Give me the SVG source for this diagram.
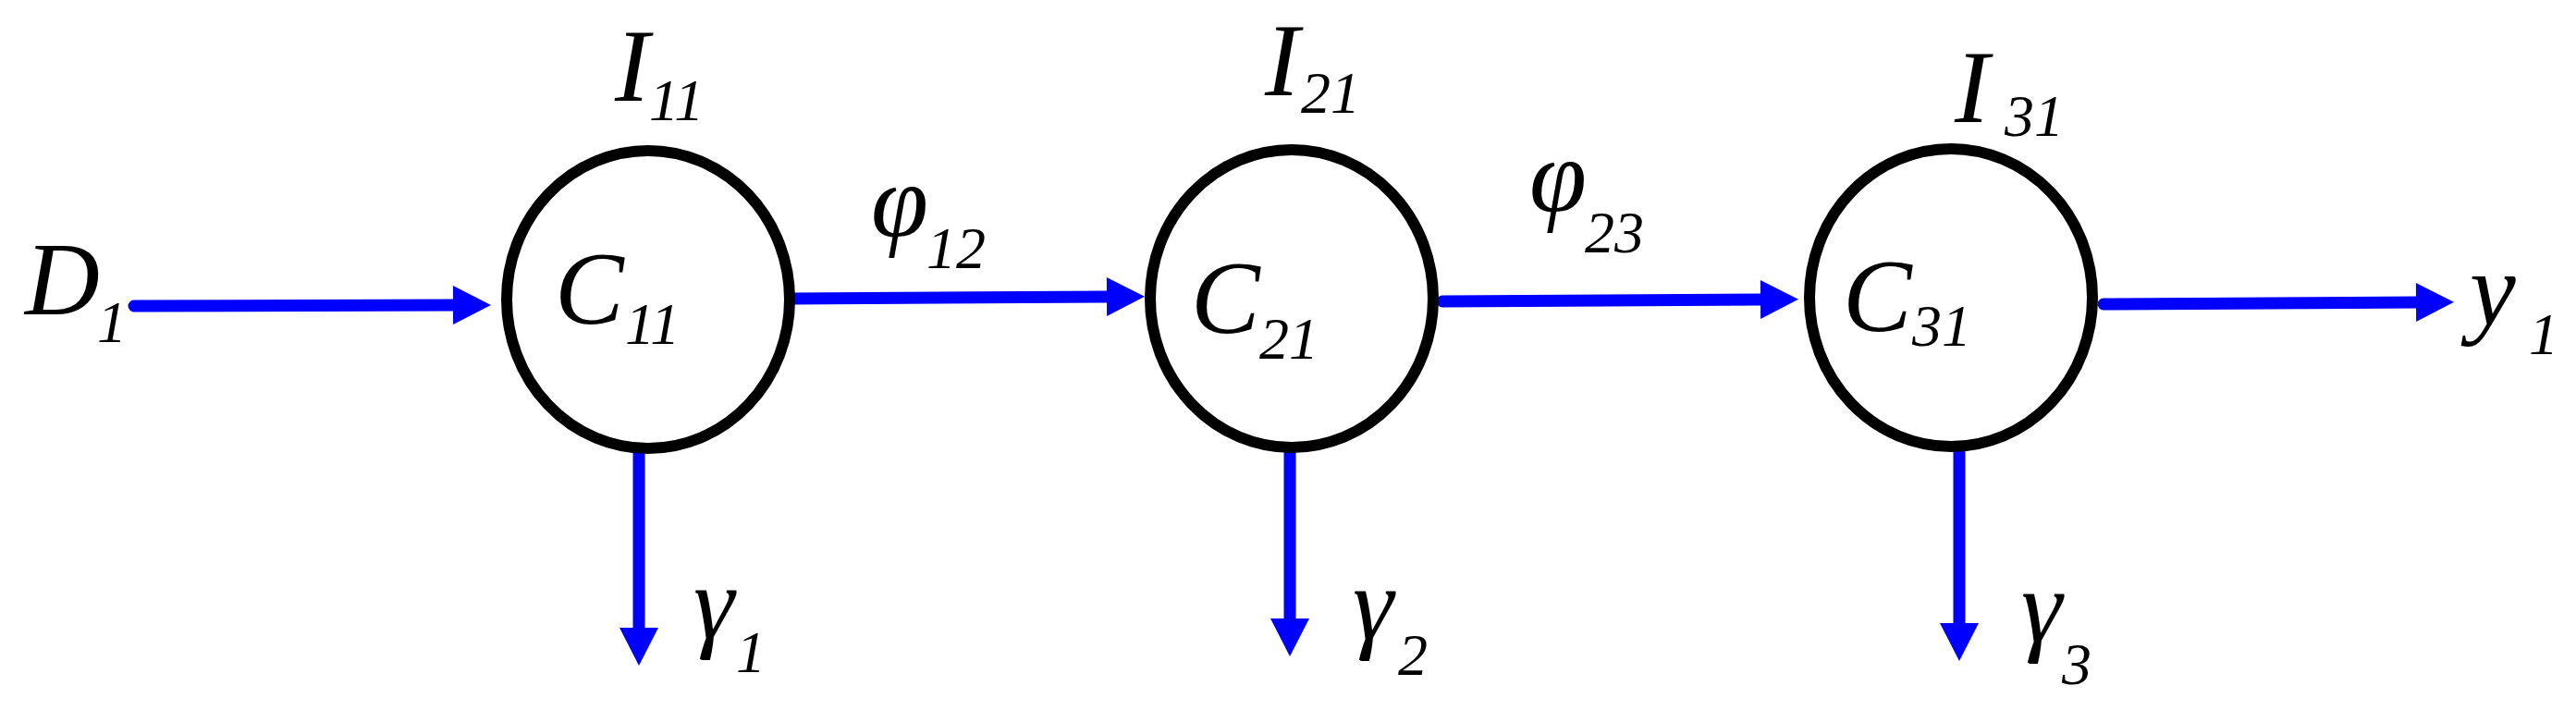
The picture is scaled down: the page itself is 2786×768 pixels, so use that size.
<svg xmlns="http://www.w3.org/2000/svg" width="2786" height="768" viewBox="0 0 2786 768">
<style>
.node{fill:#ffffff;stroke:#000000;stroke-width:12}
.conn{stroke:#0000ff;stroke-width:13;stroke-linecap:round;fill:none}
.t{font-family:"Liberation Serif","Times New Roman",serif;font-style:italic;font-size:112px;fill:#000000}
.s{font-size:64px}
</style>
<defs>
<marker id="ah" markerUnits="userSpaceOnUse" markerWidth="42" markerHeight="42" viewBox="0 0 41 42" refX="1" refY="21" orient="auto">
<path d="M0,0 L41,21 L0,42 Z" fill="#0000ff"/>
</marker>
</defs>
<rect width="2786" height="768" fill="#ffffff"/>
<g id="connectors">
<line class="conn" x1="145" y1="331" x2="491" y2="330" marker-end="url(#ah)"/>
<line class="conn" x1="858" y1="323" x2="1198" y2="321" marker-end="url(#ah)"/>
<line class="conn" x1="1560" y1="326" x2="1905" y2="324" marker-end="url(#ah)"/>
<line class="conn" x1="2275" y1="329" x2="2614" y2="327" marker-end="url(#ah)"/>
<line class="conn" x1="691" y1="490" x2="691" y2="680" marker-end="url(#ah)"/>
<line class="conn" x1="1395" y1="482" x2="1395" y2="670" marker-end="url(#ah)"/>
<line class="conn" x1="2119" y1="485" x2="2119" y2="675" marker-end="url(#ah)"/>
</g>
<g id="node-C11">
<ellipse class="node" cx="701" cy="324" rx="153" ry="161"/>
<text class="t"><tspan x="600" y="350">C</tspan><tspan class="s" x="676" y="372">11</tspan></text>
</g>
<g id="node-C21">
<ellipse class="node" cx="1397" cy="323" rx="153" ry="161"/>
<text class="t"><tspan x="1288" y="360">C</tspan><tspan class="s" x="1362" y="388">21</tspan></text>
</g>
<g id="node-C31">
<ellipse class="node" cx="2110" cy="322" rx="153" ry="161"/>
<text class="t"><tspan x="1993" y="358">C</tspan><tspan class="s" x="2068" y="374">31</tspan></text>
</g>
<g id="labels">
<text class="t"><tspan x="27" y="340">D</tspan><tspan class="s" x="105" y="370">1</tspan></text>
<text class="t"><tspan x="665" y="109">I</tspan><tspan class="s" x="702" y="130">11</tspan></text>
<text class="t"><tspan x="1368" y="103">I</tspan><tspan class="s" x="1407" y="122">21</tspan></text>
<text class="t"><tspan x="2114" y="132">I</tspan><tspan class="s" x="2168" y="147">31</tspan></text>
<text class="t"><tspan x="942" y="255">φ</tspan><tspan class="s" x="1002" y="290">12</tspan></text>
<text class="t"><tspan x="1654" y="228">φ</tspan><tspan class="s" x="1714" y="273">23</tspan></text>
<text class="t"><tspan x="2671" y="351">y</tspan><tspan class="s" x="2735" y="383">1</tspan></text>
<text class="t"><tspan x="750" y="690">γ</tspan><tspan class="s" x="796" y="727">1</tspan></text>
<text class="t"><tspan x="1463" y="691">γ</tspan><tspan class="s" x="1512" y="730">2</tspan></text>
<text class="t"><tspan x="2186" y="694">γ</tspan><tspan class="s" x="2230" y="740">3</tspan></text>
</g>
</svg>
